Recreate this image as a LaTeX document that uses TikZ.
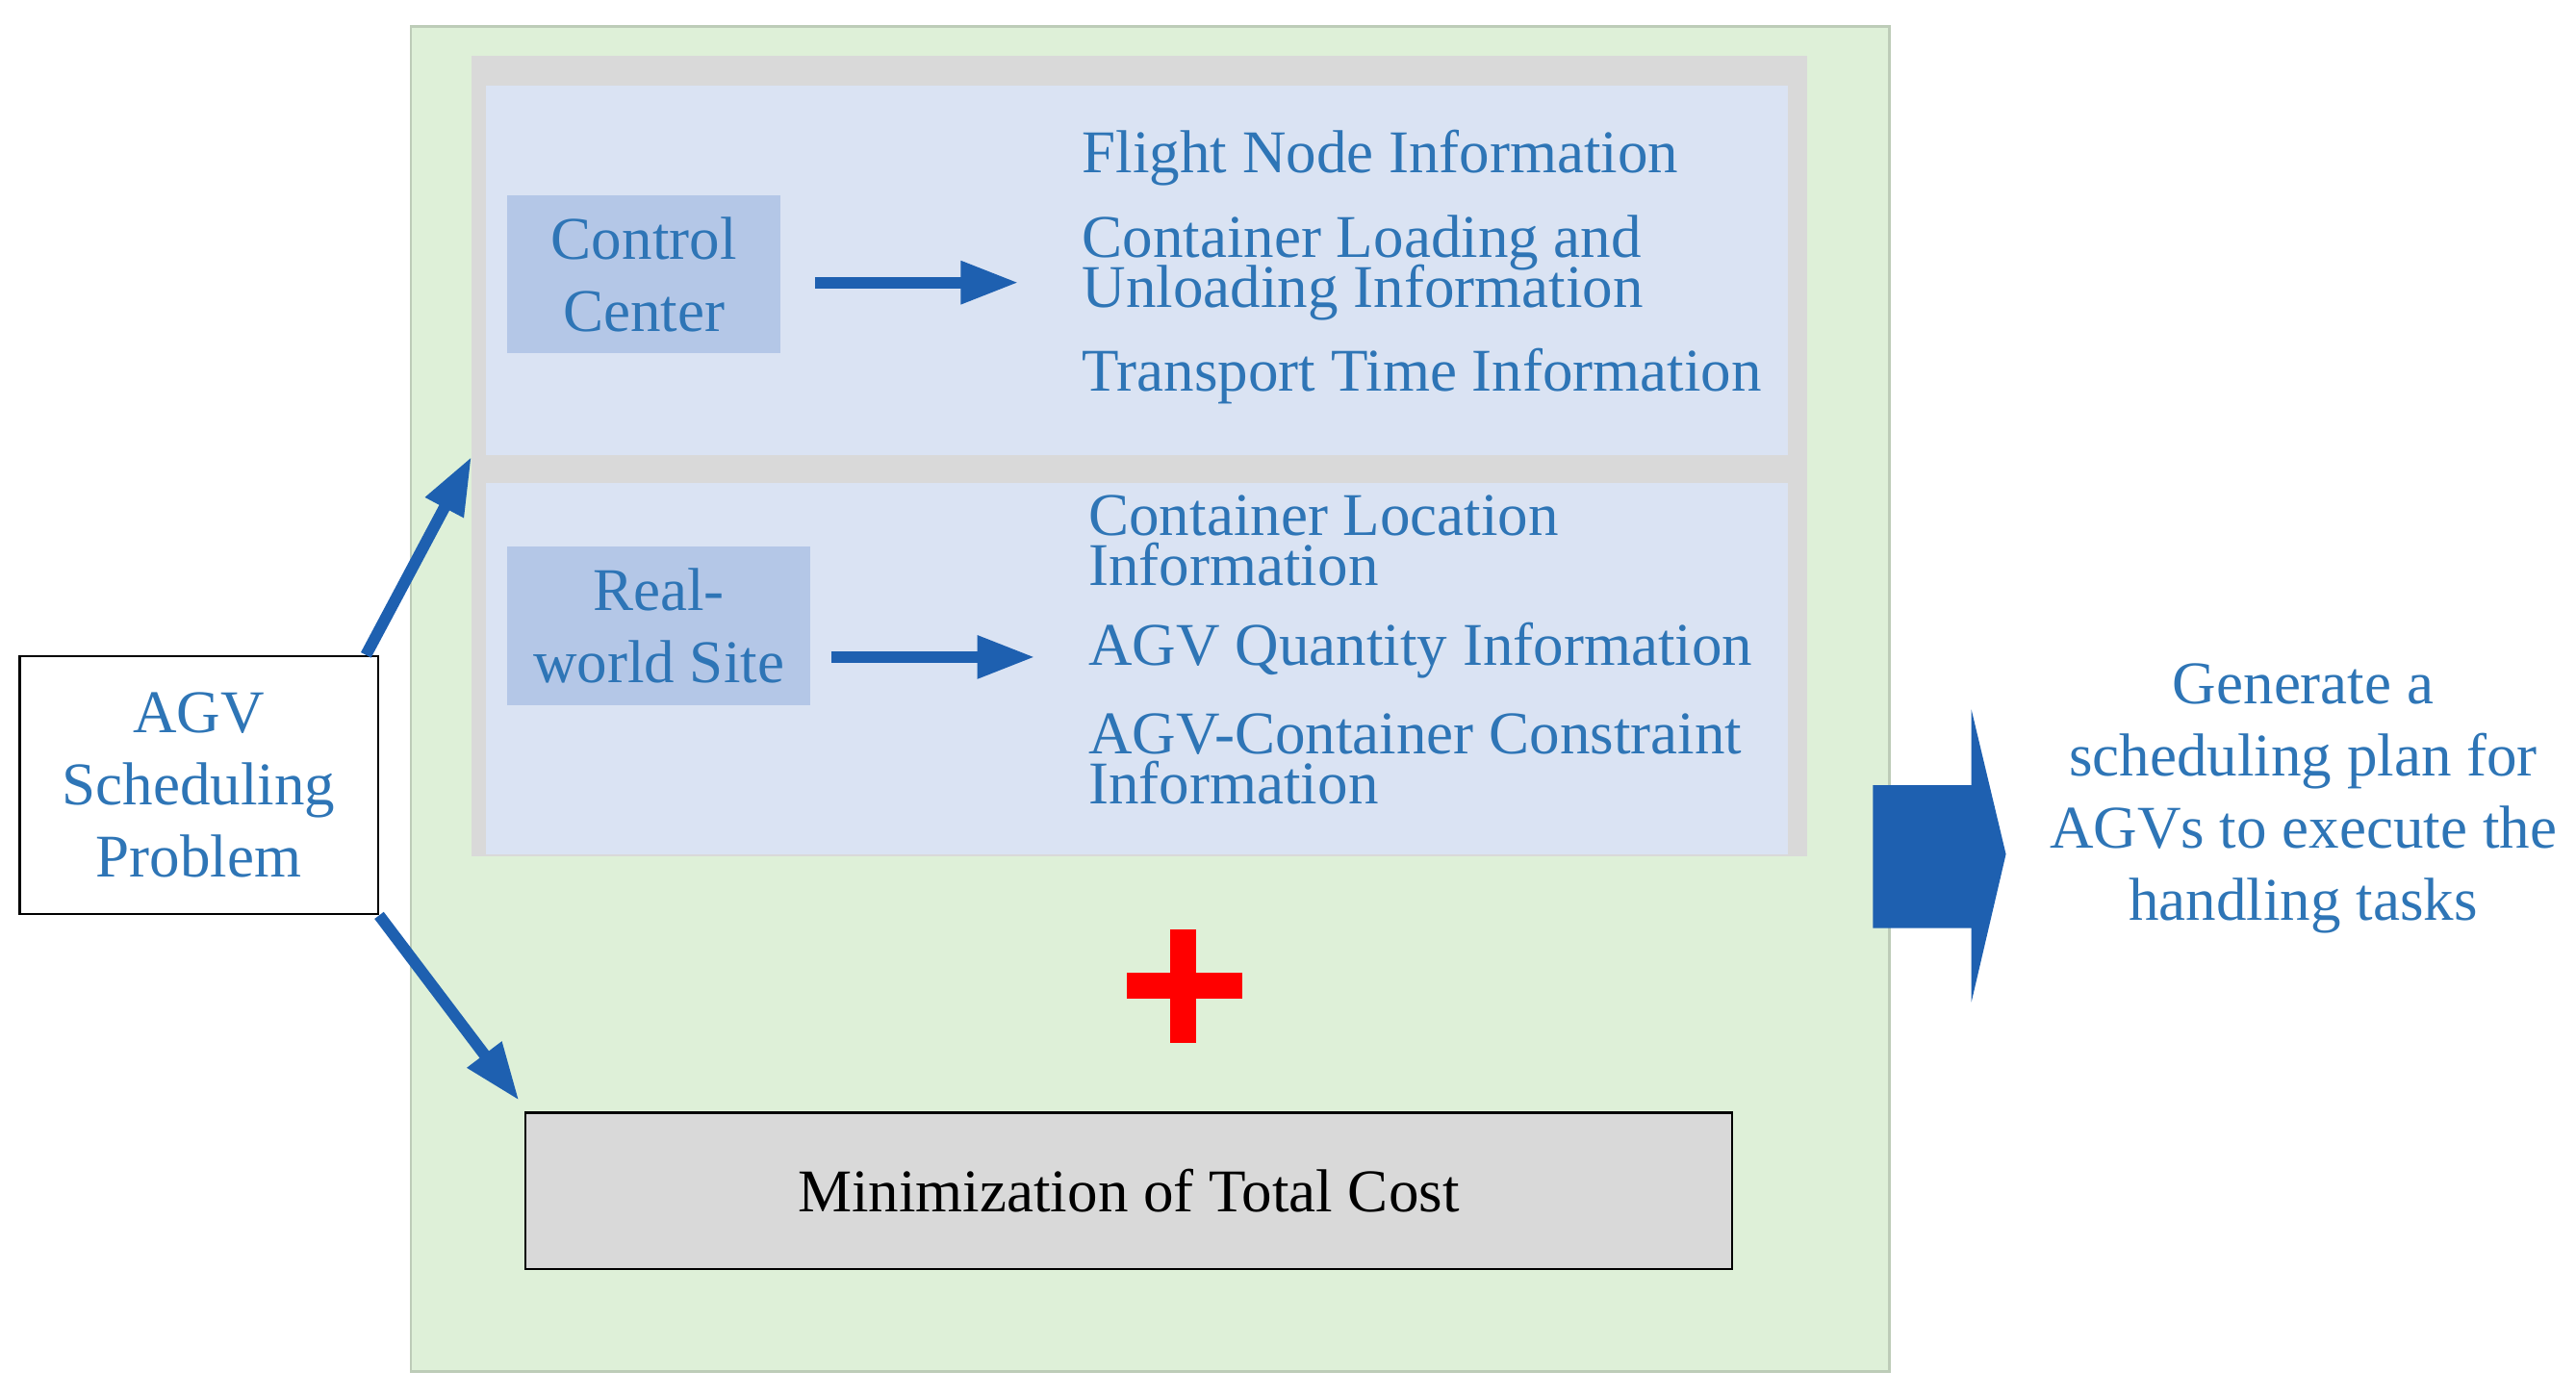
\documentclass[tikz,border=0pt]{standalone}
\usepackage{fontspec}
\setmainfont{Liberation Serif}
\usetikzlibrary{arrows.meta}
\definecolor{txtblue}{RGB}{46,117,182}
\definecolor{arrblue}{RGB}{30,96,176}
\definecolor{bggreen}{RGB}{222,240,216}
\definecolor{panelblue}{RGB}{218,227,243}
\definecolor{boxblue}{RGB}{180,199,231}
\definecolor{frame}{RGB}{217,217,217}
\newcommand{\tightlines}{\lineskiplimit=-20pt\relax}
\tikzset{
  info/.style={anchor=west, text=txtblue, font=\fontsize{10.5}{8.6}\selectfont\tightlines, align=left, inner sep=0pt},
  src/.style={fill=boxblue, text=txtblue, font=\fontsize{10.5}{12.5}\selectfont, align=center, inner sep=0pt},
  flow/.style={-{Triangle[length=10pt,width=7pt]}, line width=2pt, draw=arrblue},
}
\begin{document}
\begin{tikzpicture}[x=0.01cm,y=-0.01cm]
\useasboundingbox (0,0) rectangle (1568,850);
% background frames
\draw[fill=bggreen, draw=bggreen!85!black] (250,16) rectangle (1150,835);
\fill[frame] (287,34) rectangle (1100,521);
\fill[panelblue] (296,52) rectangle (1088,277);
\fill[panelblue] (296,294) rectangle (1088,520);
% control center
\node[src] (cc) at (392,167) [minimum width=1.66cm, minimum height=0.96cm] {Control\\Center};
\coordinate (cca) at (496,172);
\coordinate (ccb) at (620,172);
\draw[flow] (cca) -- (ccb);
\node[info] (fn) at (658,96) {Flight Node Information};
\node[info] (cl) at (658,163) {Container Loading and\\Unloading Information};
\node[info] (tt) at (658,229) {Transport Time Information};
% real-world site
\node[src] (rw) at (401,381) [minimum width=1.84cm, minimum height=0.97cm] {Real-\\world Site};
\coordinate (rwa) at (506,400);
\coordinate (rwb) at (630,400);
\draw[flow] (rwa) -- (rwb);
\node[info] (loc) at (662,329) {Container Location\\Information};
\node[info] (qty) at (662,396) {AGV Quantity Information};
\node[info] (con) at (662,462) {AGV-Container Constraint\\Information};
% problem
\node[draw, fill=white, text=txtblue, align=center, font=\fontsize{10.5}{12.5}\selectfont,
  minimum width=2.18cm, minimum height=1.57cm, inner sep=0pt] (agv) at (121,478) {AGV\\Scheduling\\Problem};
\coordinate (frm) at (287,278);
\coordinate (mnt) at (316,670);
\draw[flow] (agv.north east) ++(-8,0) coordinate (p1) -- (frm);
\draw[flow] (agv.south east) -- (mnt);
% plus
\draw[red, line width=4.5pt] (686,600) -- (756,600) (720,566) -- (720,635);
% objective
\node[draw, fill=frame, minimum width=7.34cm, minimum height=0.95cm,
  font=\fontsize{10.5}{12.5}\selectfont] (obj) at (687,725) {Minimization of Total Cost};
% output
\fill[arrblue] (1140,478) -- (1200,478) -- (1200,432) -- (1221,520) -- (1200,610) -- (1200,565) -- (1140,565) -- cycle;
\node[text=txtblue, align=center, font=\fontsize{10.5}{12.5}\selectfont] (out) at (1402,486)
  {Generate a\\scheduling plan for\\AGVs to execute the\\handling tasks};
\end{tikzpicture}
\end{document}
